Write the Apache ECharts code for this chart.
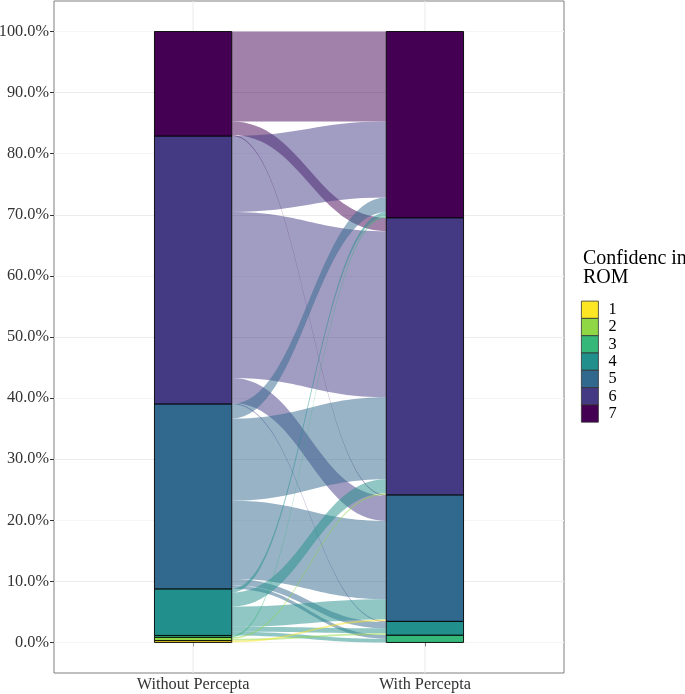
<!DOCTYPE html>
<html><head><meta charset="utf-8">
<script src="https://cdn.jsdelivr.net/npm/echarts@6/dist/echarts.min.js"></script>
<style>html,body{margin:0;padding:0;background:#fff}#c{width:685px;height:694px}</style>
</head><body><div id="c"></div>
<script>
// ---- data ----
const axisNames = ['Without Percepta', 'With Percepta'];
const levels = ['1', '2', '3', '4', '5', '6', '7'];
const levelColors = ['#FDE725', '#8FD744', '#35B779', '#21908C', '#31688E', '#443A83', '#440154'];
// each flow: level Without Percepta -> level With Percepta, share (%)
const flowFrom = [7, 7, 7, 6, 6, 6, 6, 5, 5, 5, 5, 5, 4, 4, 4, 4, 4, 3, 2, 2, 1];
const flowTo   = [7, 6, 5, 7, 6, 5, 4, 7, 6, 5, 4, 3, 7, 6, 5, 4, 3, 7, 6, 4, 5];
const flowVal  = [14.7, 2.2, 0.15, 12.4, 27.1, 4.1, 0.15, 2.4, 13.4, 12.8, 1.0, 0.6, 0.6, 2.3, 3.3, 0.8, 0.6, 0.3, 0.25, 0.3, 0.3];
const yTickValues = [0, 10, 20, 30, 40, 50, 60, 70, 80, 90, 100];

// ---- derived stacking (ggalluvial-like lodes) ----
const total = flowVal.reduce((a, b) => a + b, 0);
const pct = flowVal.map(v => v / total * 100);
const nL = levels.length;
const leftTot = new Array(nL + 1).fill(0), rightTot = new Array(nL + 1).fill(0);
pct.forEach((v, k) => { leftTot[flowFrom[k]] += v; rightTot[flowTo[k]] += v; });
const leftBot = [], rightBot = [];
let accL = 0, accR = 0;
for (let l = 1; l <= nL; l++) { leftBot[l] = accL; accL += leftTot[l]; rightBot[l] = accR; accR += rightTot[l]; }
const flowData = pct.map((v, k) => {
  const i = flowFrom[k], j = flowTo[k];
  let lb = leftBot[i];
  pct.forEach((w, m) => { if (flowFrom[m] === i && flowTo[m] < j) lb += w; });
  let rb = rightBot[j];
  pct.forEach((w, m) => { if (flowTo[m] === j && flowFrom[m] < i) rb += w; });
  return [lb + v, lb, rb + v, rb, i];
});
const W = 1 / 3;
const FONT = 'Liberation Serif';

const strataSeries = levels.map((name, idx) => {
  const l = idx + 1;
  return {
    name: name, type: 'custom', z: 5,
    itemStyle: { color: levelColors[idx] },
    data: [[1, leftBot[l], leftBot[l] + leftTot[l]], [2, rightBot[l], rightBot[l] + rightTot[l]]],
    renderItem: function (params, api) {
      const x = api.value(0), y0 = api.value(1), y1 = api.value(2);
      if (y1 - y0 <= 0) return null;
      const p0 = api.coord([x - W / 2, y1]);
      const p1 = api.coord([x + W / 2, y0]);
      return { type: 'rect', shape: { x: p0[0], y: p0[1], width: p1[0] - p0[0], height: p1[1] - p0[1] },
        style: { fill: levelColors[idx], stroke: '#000', lineWidth: 0.9 } };
    }
  };
});

const flowSeries = {
  type: 'custom', z: 3, silent: true,
  data: flowData,
  renderItem: function (params, api) {
    const lt = api.value(0), lb = api.value(1), rt = api.value(2), rb = api.value(3), lev = api.value(4);
    const a = api.coord([1 + W / 2, lt]), b = api.coord([2 - W / 2, rt]);
    const c = api.coord([2 - W / 2, rb]), d = api.coord([1 + W / 2, lb]);
    const k = 0.45, dx = (b[0] - a[0]) * k;
    const path = 'M' + a[0] + ',' + a[1] + ' C' + (a[0] + dx) + ',' + a[1] + ' ' + (b[0] - dx) + ',' + b[1] + ' ' + b[0] + ',' + b[1] +
      ' L' + c[0] + ',' + c[1] + ' C' + (c[0] - dx) + ',' + c[1] + ' ' + (d[0] + dx) + ',' + d[1] + ' ' + d[0] + ',' + d[1] + ' Z';
    return { type: 'path', shape: { pathData: path }, style: { fill: levelColors[lev - 1], opacity: 0.5, stroke: null } };
  }
};

const vGridSeries = {
  type: 'custom', z: 1, silent: true,
  data: [[1], [2]],
  renderItem: function (params, api) {
    const p0 = api.coord([api.value(0), -5]), p1 = api.coord([api.value(0), 105]);
    return { type: 'line', shape: { x1: p0[0], y1: p0[1], x2: p1[0], y2: p1[1] }, style: { stroke: '#ebebeb', lineWidth: 1 } };
  }
};

const chart = echarts.init(document.getElementById('c'), null, { renderer: 'canvas' });
chart.setOption({
  animation: false,
  backgroundColor: '#fff',
  grid: { left: 54, right: 121, top: 1, bottom: 21, show: true, borderColor: '#7f7f7f', borderWidth: 1,
    backgroundColor: 'transparent', outerBoundsMode: 'none', containLabel: false },
  xAxis: {
    type: 'value', min: 0.4, max: 2.6,
    axisLine: { show: false },
    splitLine: { show: false },
    axisTick: { show: true, customValues: [1, 2], length: 4, lineStyle: { color: '#333' } },
    axisLabel: { customValues: [1, 2], margin: 4, formatter: v => axisNames[Math.round(v) - 1] || '',
      fontFamily: FONT, fontSize: 16.3, color: '#333' }
  },
  yAxis: {
    type: 'value', min: -5, max: 105, interval: 5,
    axisLine: { show: false },
    splitLine: { show: true, lineStyle: { color: ['#f5f5f5', '#ebebeb'], width: 1 } },
    axisTick: { show: true, customValues: yTickValues, length: 4, lineStyle: { color: '#333' } },
    axisLabel: { customValues: yTickValues, margin: 5, formatter: v => v.toFixed(1) + '%',
      fontFamily: FONT, fontSize: 16.3, color: '#333' }
  },
  legend: {
    data: levels, orient: 'vertical', left: 576, top: 295.7, icon: 'rect', padding: 5,
    itemWidth: 17, itemHeight: 17.3, itemGap: -0.8,
    itemStyle: { borderColor: '#333', borderWidth: 0.8 },
    textStyle: { fontFamily: FONT, fontSize: 16.3, lineHeight: 17.3, color: '#000', padding: [0, 0, 0, 5] },
    selectedMode: false
  },
  graphic: [{
    type: 'text', left: 583, top: 249,
    style: { text: 'Confidenc in\nROM', fontFamily: FONT, fontSize: 20, lineHeight: 19, fill: '#000' }
  }],
  series: [vGridSeries, flowSeries].concat(strataSeries)
});
</script></body></html>
